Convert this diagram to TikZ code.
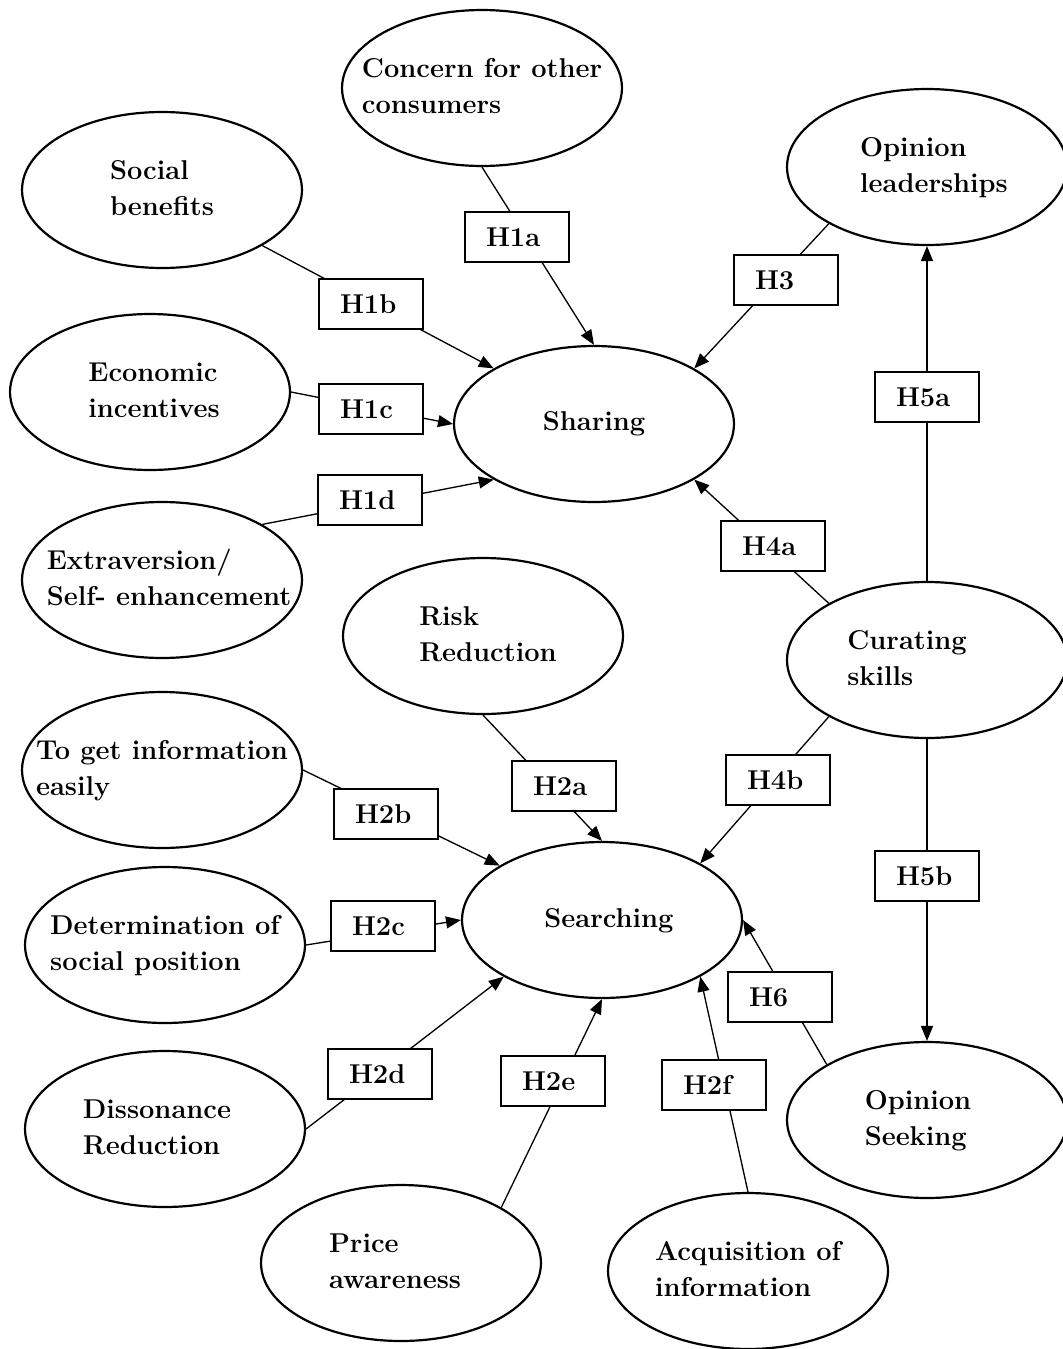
\documentclass[tikz,border=0pt]{standalone}
\usetikzlibrary{arrows.meta,shapes.geometric}
% text block inside an oval, kept out of the oval's size; optional sideways shift
\newcommand{\ovtext}[2][0cm]{\makebox[0pt]{\hspace*{#1}\begin{tabular}{@{}l@{}}#2\end{tabular}\hspace*{-#1}}}

\begin{document}
\begin{tikzpicture}[x=0.02cm, y=-0.02cm,
    font=\fontsize{15.5}{20.4}\selectfont\bfseries,
    oval/.style={draw, ellipse, line width=1.25pt, minimum width=5.6cm, minimum height=3.12cm, inner sep=0pt},
    hyp/.style={draw, fill=white, line width=0.6pt, minimum width=2.08cm, minimum height=1cm,
        text width=1.24cm, align=left, inner xsep=0.42cm, inner ysep=0pt},
    link/.style={line width=0.75pt, -{Triangle[length=8.5pt, width=6.8pt]}}]
    \useasboundingbox (0,0) rectangle (1062,1349);

    % Constructs
    \node[oval] (concern) at (482,88) {\ovtext{Concern for other\\consumers}};
    \node[oval] (social) at (162,190) {\ovtext{Social\\benefits}};
    \node[oval] (leader) at (927,167) {\ovtext[0.14cm]{Opinion\\leaderships}};
    \node[oval] (economic) at (150,392) {\ovtext[0.08cm]{Economic\\incentives}};
    \node[oval] (sharing) at (594,424) {Sharing};
    \node[oval] (extra) at (162,580) {\ovtext[0.14cm]{Extraversion/\\Self- enhancement}};
    \node[oval] (risk) at (483,636) {\ovtext[0.1cm]{Risk\\Reduction}};
    \node[oval] (curating) at (927,660) {\ovtext[-0.4cm]{Curating\\skills}};
    \node[oval] (easily) at (162,770) {\ovtext{To get information\\easily}};
    \node[oval] (searching) at (602,920) {\ovtext[0.14cm]{Searching}};
    \node[oval] (position) at (165,945) {\ovtext{Determination of\\social position}};
    \node[oval] (dissonance) at (165,1129) {\ovtext[-0.16cm]{Dissonance\\Reduction}};
    \node[oval] (seeking) at (927,1120) {\ovtext[-0.18cm]{Opinion\\Seeking}};
    \node[oval] (price) at (401,1263) {\ovtext[-0.12cm]{Price\\awareness}};
    \node[oval] (acquisition) at (748,1271) {\ovtext{Acquisition of\\information}};

    % Paths into Sharing
    \draw[link] (concern.south) -- (sharing.north);
    \draw[link] (social.-29) -- (sharing.151);
    \draw[link] (economic.east) -- (sharing.west);
    \draw[link] (extra.29) -- (sharing.-151);
    \draw[link] (leader.-150) -- (sharing.29);
    \draw[link] (curating.150) -- (sharing.-29);

    % Paths from Curating skills
    \draw[link] (curating.north) -- (leader.south);
    \draw[link] (curating.south) -- (seeking.north);
    \draw[link] (curating.-150) -- (searching.30);

    % Paths into Searching
    \draw[link] (risk.south) -- (searching.north);
    \draw[link] (easily.east) -- (searching.152);
    \draw[link] (position.east) -- (searching.west);
    \draw[link] (dissonance.east) -- (searching.-150);
    \draw[link] (price.29) -- (searching.south);
    \draw[link] (acquisition.north) -- (searching.-30);
    \draw[link] (seeking.151) -- (searching.east);

    % Hypothesis labels
    \node[hyp] (h1a) at (517,237) {H1a};
    \node[hyp] (h1b) at (371,304) {H1b};
    \node[hyp] (h3) at (786,280) {H3};
    \node[hyp] (h1c) at (371,409) {H1c};
    \node[hyp] (h5a) at (927,397) {H5a};
    \node[hyp] (h1d) at (370,500) {H1d};
    \node[hyp] (h4a) at (773,546) {H4a};
    \node[hyp] (h2a) at (564,786) {H2a};
    \node[hyp] (h4b) at (778,780) {H4b};
    \node[hyp] (h2b) at (386,814) {H2b};
    \node[hyp] (h5b) at (927,876) {H5b};
    \node[hyp] (h2c) at (383,926) {H2c};
    \node[hyp] (h6) at (780,997) {H6};
    \node[hyp] (h2d) at (380,1074) {H2d};
    \node[hyp] (h2e) at (553,1081) {H2e};
    \node[hyp] (h2f) at (714,1085) {H2f};
\end{tikzpicture}
\end{document}
